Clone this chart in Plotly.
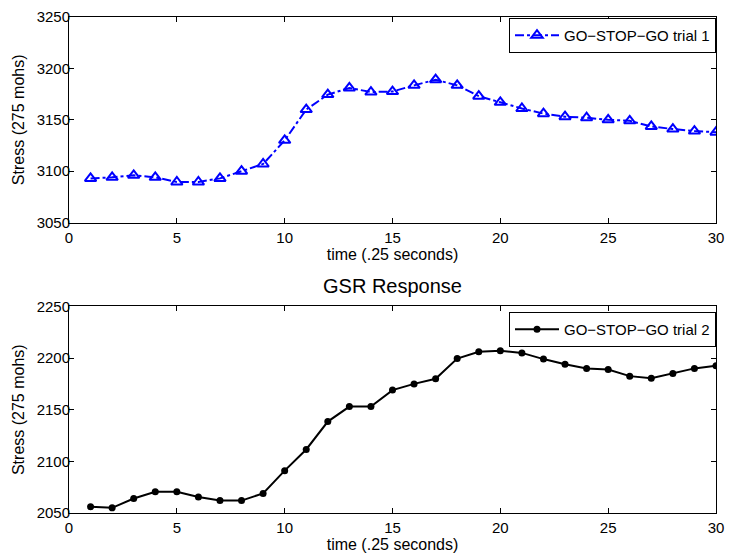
import plotly.graph_objects as go

time = list(range(1, 31))
trial1 = [3093, 3094, 3096, 3094, 3089.5, 3089.5, 3093, 3100, 3107, 3130,
          3160, 3174.5, 3181, 3177, 3177.5, 3183.5, 3189, 3183.5, 3173, 3167,
          3161, 3156, 3153, 3152, 3150, 3149, 3143.5, 3141, 3139, 3138]
trial2 = [2056, 2055, 2064, 2070.5, 2070.5, 2065.5, 2062, 2062, 2069, 2091,
          2111.5, 2138.5, 2153, 2153, 2169, 2175, 2180, 2199.5, 2206, 2207,
          2205, 2199, 2194, 2190, 2189, 2182.5, 2180.5, 2185, 2190, 2192.5]
xticks = [0, 5, 10, 15, 20, 25, 30]
yticks1 = [3050, 3100, 3150, 3200, 3250]
yticks2 = [2050, 2100, 2150, 2200, 2250]

FONT = "Liberation Sans, Arial, Helvetica, sans-serif"

fig = go.Figure()
fig.add_trace(go.Scatter(
    x=time, y=trial1, mode="lines+markers", name="GO\u2212STOP\u2212GO trial 1",
    line=dict(color="#0000ff", width=2, dash="dashdot"),
    marker=dict(symbol="triangle-up-open", size=10, color="#0000ff",
                line=dict(width=2, color="#0000ff")),
    xaxis="x", yaxis="y", legend="legend"))
fig.add_trace(go.Scatter(
    x=time, y=trial2, mode="lines+markers", name="GO\u2212STOP\u2212GO trial 2",
    line=dict(color="#000000", width=2),
    marker=dict(symbol="circle", size=7, color="#000000"),
    xaxis="x2", yaxis="y2", legend="legend2"))

axis_common = dict(showline=True, linecolor="black", linewidth=1, mirror="ticks",
                   ticks="inside", ticklen=5, tickcolor="black", showgrid=False,
                   zeroline=False, ticklabeloverflow="allow",
                   tickfont=dict(family=FONT, size=15, color="black"))

xt = dict(text="time (.25 seconds)", standoff=0, font=dict(family=FONT, size=16))
yt = dict(text="Stress (275 mohs)", standoff=8, font=dict(family=FONT, size=16))

fig.update_layout(
    width=732, height=555,
    margin=dict(l=69, r=8, t=16, b=42),
    plot_bgcolor="white", paper_bgcolor="white",
    font=dict(family=FONT, size=15, color="black"),
    showlegend=True,
    xaxis=dict(domain=[0, 1], range=[0, 30], tickvals=xticks, anchor="y",
               title=xt, ticklabelstandoff=1, **axis_common),
    yaxis=dict(domain=[0.5855, 1], range=[3050, 3250], tickvals=yticks1, anchor="x",
               title=yt, ticklabelstandoff=-5, **axis_common),
    xaxis2=dict(domain=[0, 1], range=[0, 30], tickvals=xticks, anchor="y2",
                title=xt, ticklabelstandoff=1, **axis_common),
    yaxis2=dict(domain=[0, 0.4165], range=[2050, 2250], tickvals=yticks2, anchor="x2",
                title=yt, ticklabelstandoff=-5, **axis_common),
    legend=dict(x=1.0, y=0.998, xanchor="right", yanchor="top",
                bgcolor="white", bordercolor="black", borderwidth=1,
                font=dict(family=FONT, size=15), itemwidth=44),
    legend2=dict(x=1.0, y=0.405, xanchor="right", yanchor="top",
                 bgcolor="white", bordercolor="black", borderwidth=1,
                 font=dict(family=FONT, size=15), itemwidth=44),
    annotations=[dict(text="GSR Response", x=0.5, y=0.4165, xref="paper", yref="paper",
                      xanchor="center", yanchor="middle", yshift=20, showarrow=False,
                      font=dict(family=FONT, size=20, color="black"))],
)

fig.write_html("out.html")
